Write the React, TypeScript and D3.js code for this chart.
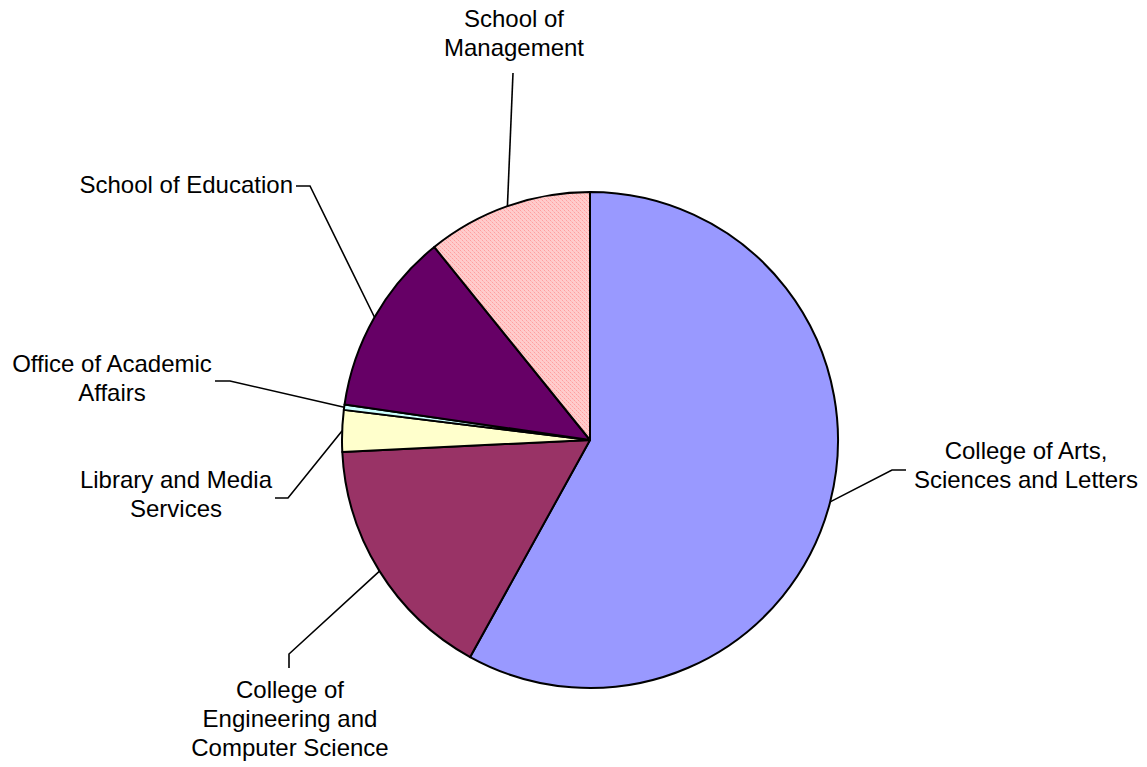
import { useEffect, useRef } from "react";
import * as d3 from "d3";

const categories = [
  "College of Arts, Sciences and Letters",
  "College of Engineering and Computer Science",
  "Library and Media Services",
  "Office of Academic Affairs",
  "School of Education",
  "School of Management",
];

// share of the total (percent)
const shares = [58.0, 16.2, 2.7, 0.35, 11.9, 10.8];

const sliceColors = ["#9999FF", "#993366", "#FFFFCC", "#CCFFFF", "#660066", "url(#pinkDots)"];

// label text, line by line, as it is broken in the chart
const labelLines = [
  ["College of Arts,", "Sciences and Letters"],
  ["College of", "Engineering and", "Computer Science"],
  ["Library and Media", "Services"],
  ["Office of Academic", "Affairs"],
  ["School of Education"],
  ["School of", "Management"],
];

type LabelLayout = {
  elbow: [number, number];
  stub: [number, number] | null;
  x: number;
  y: number;
  anchor: string;
};

// where each label sits and how its leader bends
const labelLayout: LabelLayout[] = [
  { elbow: [892, 470], stub: [906, 470], x: 1026, y: 459, anchor: "middle" },
  { elbow: [289, 654], stub: [289, 668], x: 290, y: 698, anchor: "middle" },
  { elbow: [288, 498], stub: [275, 498], x: 176, y: 488, anchor: "middle" },
  { elbow: [230, 381], stub: [215, 381], x: 112, y: 372, anchor: "middle" },
  { elbow: [310, 186], stub: [296, 186], x: 293, y: 193, anchor: "end" },
  { elbow: [513, 73], stub: null, x: 514, y: 27, anchor: "middle" },
];

const WIDTH = 1147;
const HEIGHT = 767;
const CX = 590;
const CY = 440;
const RADIUS = 248;
const LINE_HEIGHT = 29;

type Slice = { name: string; value: number; color: string; lines: string[]; layout: LabelLayout };

export default function App() {
  const svgRef = useRef<SVGSVGElement>(null);

  useEffect(() => {
    if (!svgRef.current) return;
    const svg = d3.select(svgRef.current);
    svg.selectAll("*").remove();

    const data: Slice[] = categories.map((name, i) => ({
      name,
      value: shares[i],
      color: sliceColors[i],
      lines: labelLines[i],
      layout: labelLayout[i],
    }));

    // fine dotted fill used by the management slice
    const defs = svg.append("defs");
    const pattern = defs.append("pattern")
      .attr("id", "pinkDots")
      .attr("patternUnits", "userSpaceOnUse")
      .attr("width", 4)
      .attr("height", 4);
    pattern.append("rect").attr("width", 4).attr("height", 4).attr("fill", "#FFCCCC");
    pattern.append("rect").attr("x", 0).attr("y", 0).attr("width", 1).attr("height", 1).attr("fill", "#FF9F9F");
    pattern.append("rect").attr("x", 2).attr("y", 2).attr("width", 1).attr("height", 1).attr("fill", "#FF9F9F");
    pattern.append("rect").attr("x", 1).attr("y", 1).attr("width", 1).attr("height", 1).attr("fill", "#FFB8B8");
    pattern.append("rect").attr("x", 3).attr("y", 3).attr("width", 1).attr("height", 1).attr("fill", "#FFB8B8");

    const pie = d3.pie<Slice>().sort(null).value((d) => d.value);
    const arcs = pie(data);
    const arc = d3.arc<d3.PieArcDatum<Slice>>().innerRadius(0).outerRadius(RADIUS);

    const g = svg.append("g").attr("transform", `translate(${CX},${CY})`);

    g.selectAll("path.slice")
      .data(arcs)
      .enter()
      .append("path")
      .attr("class", "slice")
      .attr("d", arc)
      .attr("fill", (d) => d.data.color)
      .attr("stroke", "#000")
      .attr("stroke-width", 2)
      .attr("stroke-linejoin", "round");

    // leader lines: from the rim at the slice's mid angle, to the elbow, then a short stub
    const leader = d3.line();
    svg.selectAll("path.leader")
      .data(arcs)
      .enter()
      .append("path")
      .attr("class", "leader")
      .attr("d", (d) => {
        const mid = (d.startAngle + d.endAngle) / 2;
        const start: [number, number] = [CX + RADIUS * Math.sin(mid), CY - RADIUS * Math.cos(mid)];
        const pts: [number, number][] = [start, d.data.layout.elbow];
        if (d.data.layout.stub) pts.push(d.data.layout.stub);
        return leader(pts);
      })
      .attr("fill", "none")
      .attr("stroke", "#000")
      .attr("stroke-width", 1.6);

    const labels = svg.selectAll("text.label")
      .data(data)
      .enter()
      .append("text")
      .attr("class", "label")
      .attr("text-anchor", (d) => d.layout.anchor)
      .style("font-family", "'Liberation Sans', Arial, sans-serif")
      .style("font-size", "24px")
      .style("fill", "#000");

    labels.selectAll("tspan")
      .data((d) => d.lines.map((line, i) => ({ line, i, d })))
      .enter()
      .append("tspan")
      .attr("x", (t) => t.d.layout.x)
      .attr("y", (t) => t.d.layout.y + t.i * LINE_HEIGHT)
      .text((t) => t.line);
  }, []);

  return (
    <svg
      ref={svgRef}
      width={WIDTH}
      height={HEIGHT}
      style={{ position: "absolute", left: 0, top: 0, background: "#fff" }}
    />
  );
}
